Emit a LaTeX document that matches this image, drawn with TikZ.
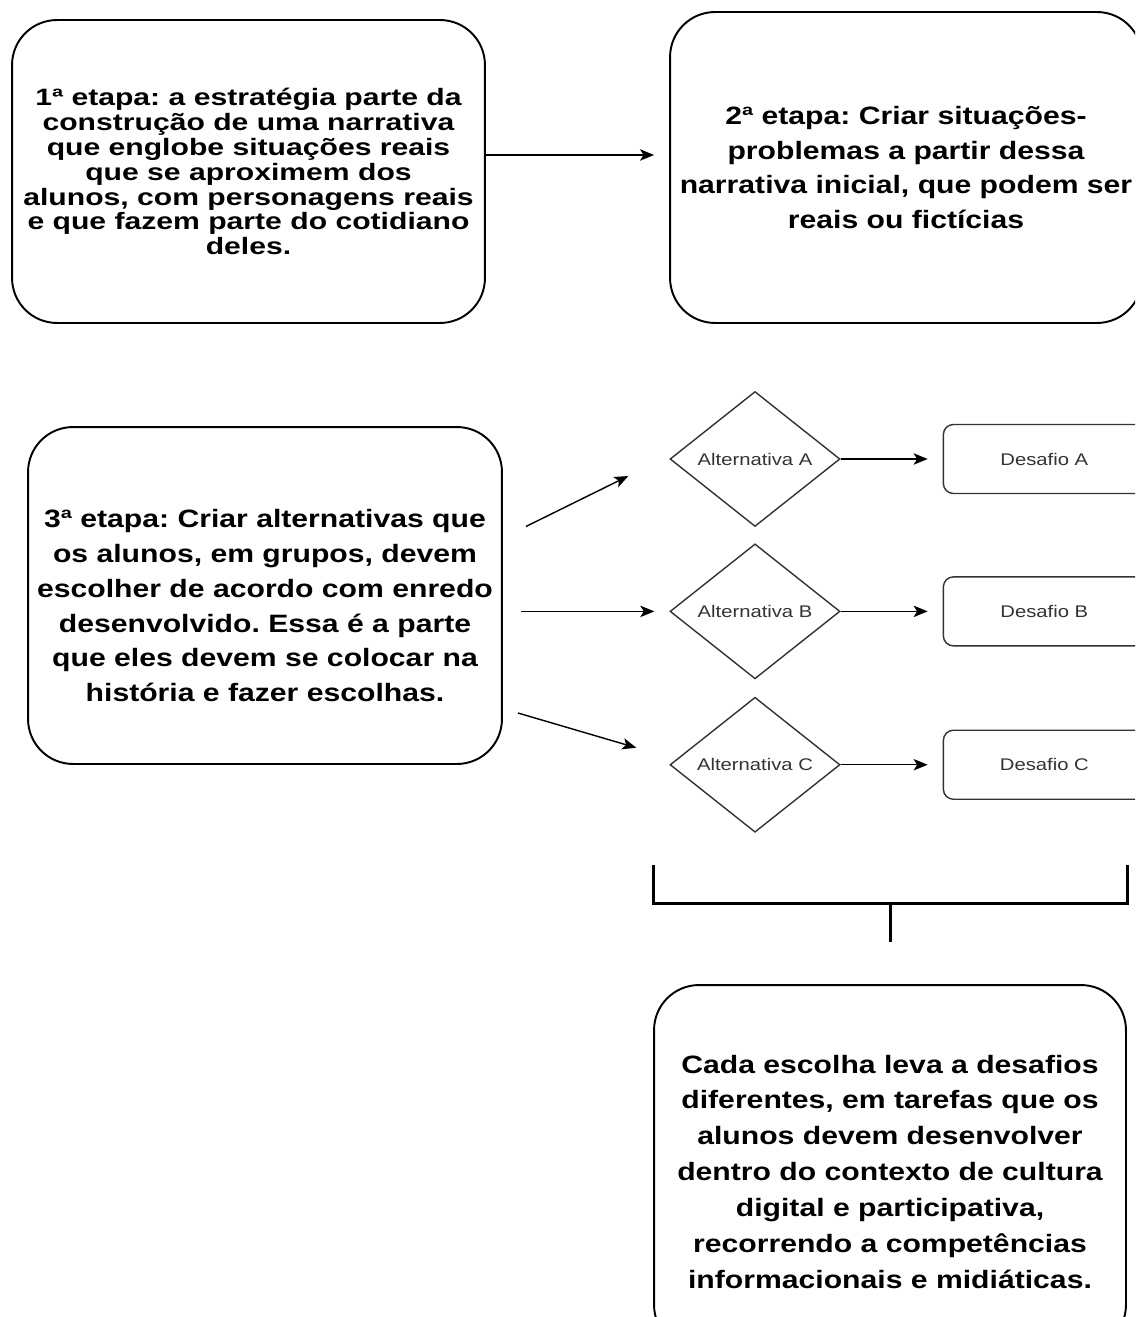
\documentclass[tikz,border=0pt]{standalone}
\usepackage{fontspec}
\usepackage{xcolor}
\usepackage{tikz}
\usetikzlibrary{shapes, arrows.meta, positioning, calc}
\newfontfamily\wideface[FakeStretch=1.2]{Liberation Sans}
\newfontfamily\widerface[FakeStretch=1.27]{Liberation Sans}
\definecolor{labelgray}{rgb}{0.2, 0.2, 0.2}
\frenchspacing

\begin{document}
\begin{tikzpicture}[x=0.02cm, y=-0.02cm,
	etapa/.style={draw=black, line width=1.1pt, rounded corners=0.9cm, align=center, inner sep=0pt,
		font=\wideface\bfseries\fontsize{14.3}{19.8}\selectfont},
	escolha/.style={diamond, draw=black!80, line width=0.8pt, aspect=1.26, minimum width=3.4cm,
		minimum height=2.7cm, inner sep=0pt, text=labelgray, font=\wideface\fontsize{9.6}{11}\selectfont},
	desafio/.style={draw=black!80, line width=0.8pt, rounded corners=0.2cm, minimum width=4.04cm,
		minimum height=1.38cm, text=labelgray, font=\wideface\fontsize{9.6}{11}\selectfont},
	link/.style={-{Stealth[length=8pt, width=6.5pt, inset=2pt]}, line width=0.8pt, shorten >=0.3cm}]

	\useasboundingbox (0,0) rectangle (1135,1317);
	\clip (0,0) rectangle (1135,1317);

	% etapas
	\node[etapa, minimum width=9.46cm, minimum height=6.06cm,
		font=\widerface\bfseries\fontsize{13.5}{14.2}\selectfont] (b1) at (248.5,171.5)
		{1ª etapa: a estratégia parte da\\construção de uma narrativa\\que englobe situações reais\\que se aproximem dos\\alunos, com personagens reais\\e que fazem parte do cotidiano\\deles.};
	\node[etapa, minimum width=9.44cm, minimum height=6.22cm] (b2) at (906,167.5)
		{2ª etapa: Criar situações-\\problemas a partir dessa\\narrativa inicial, que podem ser\\reais ou fictícias};
	\node[etapa, minimum width=9.48cm, minimum height=6.74cm] (b3) at (265,595.5)
		{\rule{0pt}{22pt}3ª etapa: Criar alternativas que\\os alunos, em grupos, devem\\escolher de acordo com enredo\\desenvolvido. Essa é a parte\\que eles devem se colocar na\\história e fazer escolhas.};

	\draw[link] ([yshift=0.33cm]b1.east) -- ([yshift=0.33cm]b1.east -| b2.west);

	% alternativas e desafios
	\node[escolha] (dA) at (755,459) {Alternativa A};
	\node[escolha, below=0.32cm of dA] (dB) {Alternativa B};
	\node[escolha, below=0.34cm of dB] (dC) {Alternativa C};

	\node[desafio, right=2.04cm of dA] (eA) {Desafio A};
	\node[desafio, right=2.04cm of dB] (eB) {Desafio B};
	\node[desafio, right=2.04cm of dC] (eC) {Desafio C};

	\draw[link, shorten >=0pt] ([shift={(23,-69)}]b3.east) -- ([shift={(-41,17)}]dA.west);
	\draw[link] ($(b3.east |- dB.west)+(18,0)$) -- (dB.west);
	\draw[link, shorten >=0pt] ([shift={(15,117.5)}]b3.east) -- ([shift={(-33,-17)}]dC.west);

	\draw[link] (dA) -- (eA);
	\draw[link] (dB) -- (eB);
	\draw[link] (dC) -- (eC);

	% chave
	\coordinate (kL) at (653,865);
	\coordinate (kR) at (1127,865);
	\coordinate (kM) at (890,903);
	\coordinate (kS) at (890,942);
	\draw[line width=1.7pt] (kL) -- (kL |- kM) -- (kR |- kM) -- (kR);
	\draw[line width=1.7pt] (kM) -- (kS);

	\node[etapa, minimum width=9.44cm, minimum height=7.3cm,
		font=\wideface\bfseries\fontsize{14.3}{20.4}\selectfont] (b4) at (890,1167.5)
		{\rule{0pt}{15pt}Cada escolha leva a desafios\\diferentes, em tarefas que os\\alunos devem desenvolver\\dentro do contexto de cultura\\digital e participativa,\\recorrendo a competências\\informacionais e midiáticas.};
\end{tikzpicture}
\end{document}
